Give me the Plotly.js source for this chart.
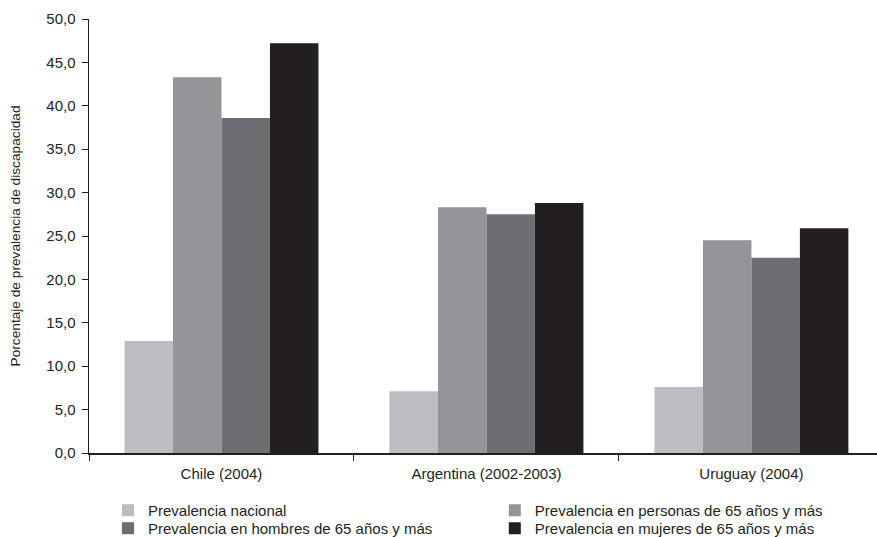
<!DOCTYPE html>
<html>
<head>
<meta charset="utf-8">
<script src="https://cdn.plot.ly/plotly-3.0.1.min.js"></script>
<style>html,body{margin:0;padding:0;background:#fff;}#chart{width:877px;height:537px;}</style>
</head>
<body>
<div id="chart"></div>
<script>
const categories = ['Chile (2004)', 'Argentina (2002-2003)', 'Uruguay (2004)'];
const seriesNames = [
  'Prevalencia nacional',
  'Prevalencia en personas de 65 años y más',
  'Prevalencia en hombres de 65 años y más',
  'Prevalencia en mujeres de 65 años y más'
];
const nacional = [12.9, 7.1, 7.6];
const personas65 = [43.3, 28.3, 24.5];
const hombres65 = [38.6, 27.5, 22.5];
const mujeres65 = [47.2, 28.8, 25.9];
const colors = ['#BCBDC1', '#939598', '#6D6E71', '#231F20'];
const legendIds = ['legend', 'legend2', 'legend3', 'legend4'];
const yTickValues = [0, 5, 10, 15, 20, 25, 30, 35, 40, 45, 50];

const seriesValues = [nacional, personas65, hombres65, mujeres65];
const traces = seriesValues.map((vals, i) => ({
  type: 'bar',
  name: seriesNames[i],
  x: categories,
  y: vals,
  legend: legendIds[i],
  marker: {color: colors[i], line: {width: 0}},
  hoverinfo: 'x+y+name'
}));

const font = 'Liberation Sans, Arial, sans-serif';
const legendFont = {family: font, size: 15, color: '#231F20'};
const legendBase = {
  orientation: 'v',
  xanchor: 'left',
  yanchor: 'top',
  font: legendFont,
  itemwidth: 30,
  tracegroupgap: 0,
  traceorder: 'normal',
  borderwidth: 0,
  bgcolor: 'rgba(0,0,0,0)'
};
const col1X = 0.0241, col2X = 0.515, row1Y = -0.0945, row2Y = -0.1359;
const layout = {
  width: 877,
  height: 537,
  margin: {l: 89, r: 0, t: 19, b: 84, pad: 0, autoexpand: false},
  paper_bgcolor: '#ffffff',
  plot_bgcolor: '#ffffff',
  separators: ',.',
  barmode: 'group',
  bargap: 0.268,
  bargroupgap: 0,
  font: {family: font, color: '#231F20', size: 15},
  showlegend: true,
  legend: Object.assign({}, legendBase, {x: col1X, y: row1Y}),
  legend2: Object.assign({}, legendBase, {x: col2X, y: row1Y}),
  legend3: Object.assign({}, legendBase, {x: col1X, y: row2Y}),
  legend4: Object.assign({}, legendBase, {x: col2X, y: row2Y}),
  xaxis: {
    type: 'category',
    range: [-0.5, 2.474],
    showline: true,
    linecolor: '#231F20',
    linewidth: 1.5,
    ticks: 'outside',
    tickson: 'boundaries',
    ticklen: 6,
    tickwidth: 1,
    tickcolor: '#231F20',
    ticklabelstandoff: 6,
    showgrid: false,
    zeroline: false,
    tickfont: {family: font, size: 15, color: '#231F20'},
    automargin: false,
    fixedrange: true
  },
  yaxis: {
    range: [0, 50],
    tickvals: yTickValues,
    tickformat: '.1f',
    showline: true,
    linecolor: '#231F20',
    linewidth: 1.5,
    ticks: 'outside',
    ticklen: 6,
    tickwidth: 1,
    tickcolor: '#231F20',
    ticklabelstandoff: 3,
    showgrid: false,
    zeroline: false,
    tickfont: {family: font, size: 15, color: '#231F20'},
    title: {text: 'Porcentaje de prevalencia de discapacidad', font: {family: font, size: 13.7, color: '#231F20'}, standoff: 22},
    automargin: false,
    fixedrange: true
  }
};

Plotly.newPlot('chart', traces, layout, {displayModeBar: false, staticPlot: true});
</script>
</body>
</html>
